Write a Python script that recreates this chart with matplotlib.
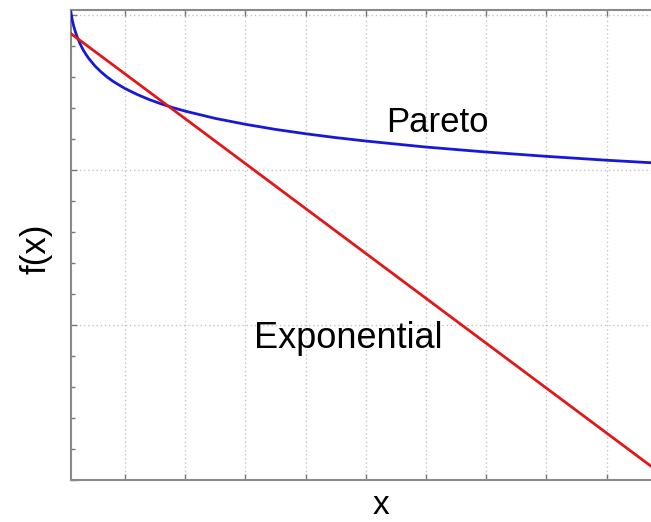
import numpy as np
import matplotlib
matplotlib.use("Agg")
import matplotlib.pyplot as plt
from matplotlib.ticker import MultipleLocator, NullFormatter

plt.rcParams['font.family'] = ['Liberation Sans', 'DejaVu Sans']

# values (y is log-scaled f(x), in decades)
pareto_x = [1, 1.25, 1.5, 1.75, 2, 2.5, 3, 3.5, 4, 5, 6, 7, 8, 9, 10,
            12, 14, 16, 18, 20, 25, 30, 35, 40, 45, 50, 60, 70, 80, 90, 100]
pareto_y = [0.02, -0.035, -0.075, -0.108, -0.136, -0.183, -0.222, -0.254,
            -0.282, -0.329, -0.367, -0.400, -0.428, -0.452, -0.475,
            -0.513, -0.546, -0.574, -0.599, -0.621, -0.668, -0.706, -0.739,
            -0.767, -0.792, -0.814, -0.853, -0.885, -0.913, -0.938, -0.960]

expo_x = [1, 20, 40, 60, 80, 100]
expo_y = [-0.12, -0.67, -1.25, -1.83, -2.41, -2.99]

fig = plt.figure(figsize=(6.51, 5.22), dpi=100)
ax = fig.add_axes([0.1088, 0.0814, 0.9155, 0.8994])

ax.plot(pareto_x, pareto_y, color='#1818d8', lw=2.0, zorder=3)
ax.plot(expo_x, expo_y, color='#e01818', lw=2.0, zorder=3)

ax.set_xlim(1, 100)
ax.set_ylim(-3, 0.032)

ax.xaxis.set_major_locator(MultipleLocator(10))
ax.yaxis.set_major_locator(MultipleLocator(1))
ax.yaxis.set_minor_locator(MultipleLocator(0.2))
ax.xaxis.set_major_formatter(NullFormatter())
ax.yaxis.set_major_formatter(NullFormatter())

ax.grid(True, which='major', color='#c4c4c4', linestyle=(0, (1, 2)), lw=1.0)
ax.tick_params(which='both', direction='in', color='#777777', top=True,
               right=True, labelleft=False, labelbottom=False)
ax.tick_params(which='major', length=4, width=1)
ax.tick_params(which='minor', length=3, width=1)
for s in ax.spines.values():
    s.set_color('#8a8a8a')
    s.set_linewidth(1.5)

# labels placed at pixel positions
fig.text(437 / 651, 1 - 131.7 / 522, 'Pareto', fontsize=25,
         ha='center', va='baseline')
fig.text(348 / 651, 1 - 348 / 522, 'Exponential', fontsize=26,
         ha='center', va='baseline')

fig.text(381 / 651, 1 - 514 / 522, 'x', fontsize=24, ha='center', va='baseline')
fig.text(36 / 651, 1 - 249 / 522, 'f(x)', fontsize=25, ha='center', va='center',
         rotation=90)

fig.savefig('out.png', dpi=100, facecolor='white')
